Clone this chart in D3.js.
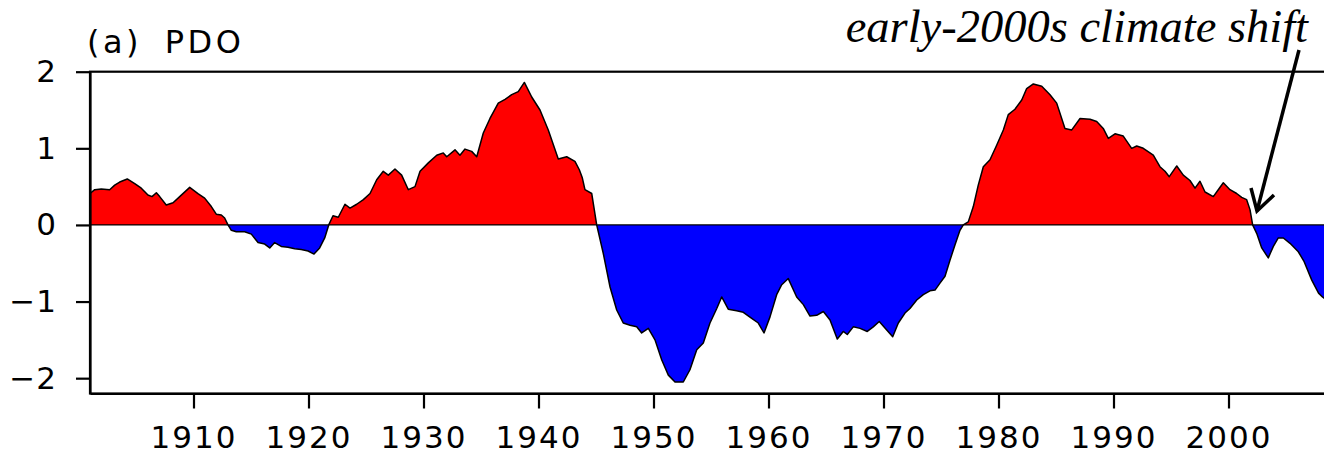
<!DOCTYPE html>
<html>
<head>
<meta charset="utf-8">
<script src="https://cdn.jsdelivr.net/npm/d3@7"></script>
<style>
  html, body { margin: 0; padding: 0; background: #fff; overflow: hidden; }
  svg { display: block; }
  .tick text { font-family: "DejaVu Sans", sans-serif; fill: #000; }
</style>
</head>
<body>
<svg id="chart" width="1324" height="455"></svg>
<script>
// PDO index (smoothed), by fractional year
const years = [
  1901.0, 1901.41, 1901.98, 1902.71, 1903.15, 1903.58, 1904.24, 1904.89, 1905.46, 1906.04,
  1906.39, 1906.77, 1907.06, 1907.63, 1908.22, 1908.80, 1909.67, 1910.39, 1910.97, 1911.55,
  1911.98, 1912.42, 1912.71, 1913.0, 1913.29, 1913.72, 1914.45, 1915.03, 1915.61, 1916.19,
  1916.63, 1917.06, 1917.63, 1918.22, 1918.80, 1919.37, 1919.96, 1920.48, 1920.97, 1921.41,
  1921.76, 1922.13, 1922.59, 1923.17, 1923.61, 1924.19, 1924.77, 1925.35, 1925.93, 1926.50,
  1926.94, 1927.52, 1928.10, 1928.68, 1929.26, 1929.70, 1930.42, 1931.15, 1931.72, 1932.02,
  1932.74, 1933.17, 1933.61, 1934.19, 1934.63, 1935.20, 1935.78, 1936.50, 1937.09, 1937.67,
  1938.24, 1938.77, 1939.41, 1940.13, 1940.85, 1941.72, 1942.45, 1943.17, 1943.55, 1943.80,
  1944.04, 1944.63, 1945.06, 1945.63, 1946.22, 1946.80, 1947.37, 1947.96, 1948.54, 1948.97,
  1949.55, 1950.13, 1950.71, 1951.29, 1951.87, 1952.59, 1953.17, 1953.76, 1954.33, 1954.91,
  1955.50, 1955.93, 1956.50, 1957.23, 1957.81, 1958.54, 1959.11, 1959.61, 1960.13, 1960.71,
  1961.15, 1961.72, 1962.45, 1963.03, 1963.61, 1964.19, 1964.77, 1965.35, 1965.98, 1966.50,
  1966.85, 1967.37, 1967.96, 1968.59, 1969.11, 1969.63, 1970.28, 1970.80, 1971.29, 1971.87,
  1972.30, 1972.89, 1973.46, 1974.04, 1974.48, 1974.91, 1975.35, 1975.78, 1976.22, 1976.65,
  1976.94, 1977.37, 1977.81, 1978.24, 1978.68, 1979.26, 1979.84, 1980.42, 1980.85, 1981.43,
  1982.02, 1982.45, 1983.03, 1983.76, 1984.48, 1985.06, 1985.78, 1986.37, 1987.09, 1987.96,
  1988.54, 1989.11, 1989.55, 1990.13, 1990.85, 1991.58, 1992.02, 1992.59, 1993.46, 1994.04,
  1994.48, 1994.85, 1995.50, 1996.07, 1996.65, 1997.09, 1997.52, 1997.96, 1998.68, 1999.11,
  1999.55, 2000.13, 2000.71, 2001.15, 2001.58, 2001.87, 2002.10, 2002.45, 2002.89, 2003.46,
  2003.90, 2004.33, 2004.77, 2005.35, 2006.07, 2006.58, 2007.24, 2007.83, 2008.17, 2008.60
];
const pdo = [
  0.41, 0.46, 0.47, 0.46, 0.52, 0.56, 0.60, 0.54, 0.48, 0.39,
  0.37, 0.42, 0.37, 0.26, 0.29, 0.37, 0.49, 0.41, 0.35, 0.24,
  0.14, 0.13, 0.09, 0.00, -0.07, -0.09, -0.09, -0.12, -0.23, -0.25,
  -0.30, -0.23, -0.28, -0.29, -0.31, -0.32, -0.34, -0.38, -0.30, -0.17,
  0.00, 0.12, 0.10, 0.27, 0.22, 0.27, 0.33, 0.41, 0.59, 0.70,
  0.65, 0.73, 0.65, 0.46, 0.50, 0.70, 0.81, 0.91, 0.94, 0.89,
  0.98, 0.91, 0.99, 0.96, 0.89, 1.20, 1.39, 1.59, 1.64, 1.70,
  1.74, 1.86, 1.67, 1.50, 1.24, 0.86, 0.89, 0.83, 0.72, 0.62,
  0.46, 0.41, 0.00, -0.37, -0.81, -1.11, -1.28, -1.31, -1.33, -1.41,
  -1.35, -1.50, -1.76, -1.96, -2.05, -2.05, -1.89, -1.63, -1.54, -1.28,
  -1.09, -0.94, -1.10, -1.12, -1.14, -1.22, -1.28, -1.41, -1.20, -0.91,
  -0.78, -0.70, -0.94, -1.04, -1.19, -1.18, -1.13, -1.24, -1.49, -1.39,
  -1.43, -1.33, -1.35, -1.39, -1.33, -1.26, -1.37, -1.46, -1.28, -1.15,
  -1.09, -0.98, -0.91, -0.86, -0.85, -0.76, -0.67, -0.46, -0.26, -0.07,
  0.00, 0.04, 0.24, 0.52, 0.76, 0.85, 1.04, 1.24, 1.44, 1.51,
  1.63, 1.78, 1.84, 1.81, 1.70, 1.59, 1.26, 1.24, 1.39, 1.38,
  1.35, 1.26, 1.13, 1.19, 1.16, 1.00, 1.03, 1.00, 0.91, 0.76,
  0.70, 0.63, 0.77, 0.65, 0.58, 0.48, 0.57, 0.43, 0.37, 0.46,
  0.55, 0.46, 0.41, 0.36, 0.33, 0.20, 0.00, -0.11, -0.30, -0.43,
  -0.28, -0.17, -0.17, -0.24, -0.35, -0.48, -0.72, -0.89, -0.94, -0.99
];
const xTicks = [1910, 1920, 1930, 1940, 1950, 1960, 1970, 1980, 1990, 2000];
const yTicks = [-2, -1, 0, 1, 2];
const panelTitle = "(a) PDO";
const annotation = "early-2000s climate shift";

const data = years.map((t, i) => ({ t, v: pdo[i] }));

const svg = d3.select("#chart");
const x = d3.scaleLinear().domain([1901, 2010]).range([90, 1343.5]);
const y = d3.scaleLinear().domain([-2.2, 2]).range([393.5, 71.7]);
const [x0, x1] = x.range();
const [yb, yt] = y.range();

const defs = svg.append("defs");
defs.append("clipPath").attr("id", "above")
  .append("rect").attr("x", x0).attr("y", yt).attr("width", x1 - x0).attr("height", y(0) - yt);
defs.append("clipPath").attr("id", "below")
  .append("rect").attr("x", x0).attr("y", y(0)).attr("width", x1 - x0).attr("height", yb - y(0));

const area = d3.area().x(d => x(d.t)).y0(y(0)).y1(d => y(d.v));
const line = d3.line().x(d => x(d.t)).y(d => y(d.v));

// positive phase in red, negative phase in blue
svg.append("path").datum(data).attr("d", area).attr("fill", "#ff0000").attr("clip-path", "url(#above)");
svg.append("path").datum(data).attr("d", area).attr("fill", "#0000ff").attr("clip-path", "url(#below)");
svg.append("path").datum(data).attr("d", line)
  .attr("fill", "none").attr("stroke", "#000").attr("stroke-width", 1.5).attr("stroke-linejoin", "round");

// zero reference line
svg.append("line").attr("x1", x0).attr("x2", x1).attr("y1", y(0)).attr("y2", y(0))
  .attr("stroke", "#000").attr("stroke-width", 1.2);

// frame
svg.append("rect").attr("x", x0).attr("y", yt).attr("width", x1 - x0).attr("height", yb - yt)
  .attr("fill", "none").attr("stroke", "#000").attr("stroke-width", 2.2);

// axes
const gx = svg.append("g").attr("transform", `translate(0,${yb})`)
  .call(d3.axisBottom(x).tickValues(xTicks).tickSize(15).tickSizeOuter(0).tickPadding(17)
    .tickFormat(d3.format("d")));
gx.select(".domain").attr("stroke-width", 2.2);
gx.selectAll(".tick line").attr("stroke-width", 2.2);
gx.selectAll(".tick text").attr("font-size", 31).attr("letter-spacing", 2);

const gy = svg.append("g").attr("transform", `translate(${x0},0)`)
  .call(d3.axisLeft(y).tickValues(yTicks).tickSize(14).tickSizeOuter(0).tickPadding(19)
    .tickFormat(d3.format("d")));
gy.select(".domain").attr("stroke-width", 2.2);
gy.selectAll(".tick line").attr("stroke-width", 2.2);
gy.selectAll(".tick text").attr("font-size", 31).attr("letter-spacing", 1);

// panel title
svg.append("text").attr("x", 87).attr("y", 53)
  .attr("font-family", "DejaVu Sans, sans-serif").attr("font-size", 32)
  .attr("letter-spacing", 3.5).attr("word-spacing", 9)
  .text(panelTitle);

// annotation with arrow
svg.append("text").attr("x", 1308).attr("y", 41.5).attr("text-anchor", "end")
  .attr("font-family", "Liberation Serif, Times New Roman, serif").attr("font-style", "italic")
  .attr("font-size", 46.5).text(annotation);

const tip = [1257, 211];
svg.append("line").attr("x1", 1299).attr("y1", 50).attr("x2", tip[0]).attr("y2", tip[1])
  .attr("stroke", "#000").attr("stroke-width", 3.5);
svg.append("path")
  .attr("d", `M1251,188 L${tip[0]},${tip[1]} L1274,195`)
  .attr("fill", "none").attr("stroke", "#000").attr("stroke-width", 3.5)
  .attr("stroke-linejoin", "miter");
</script>
</body>
</html>
